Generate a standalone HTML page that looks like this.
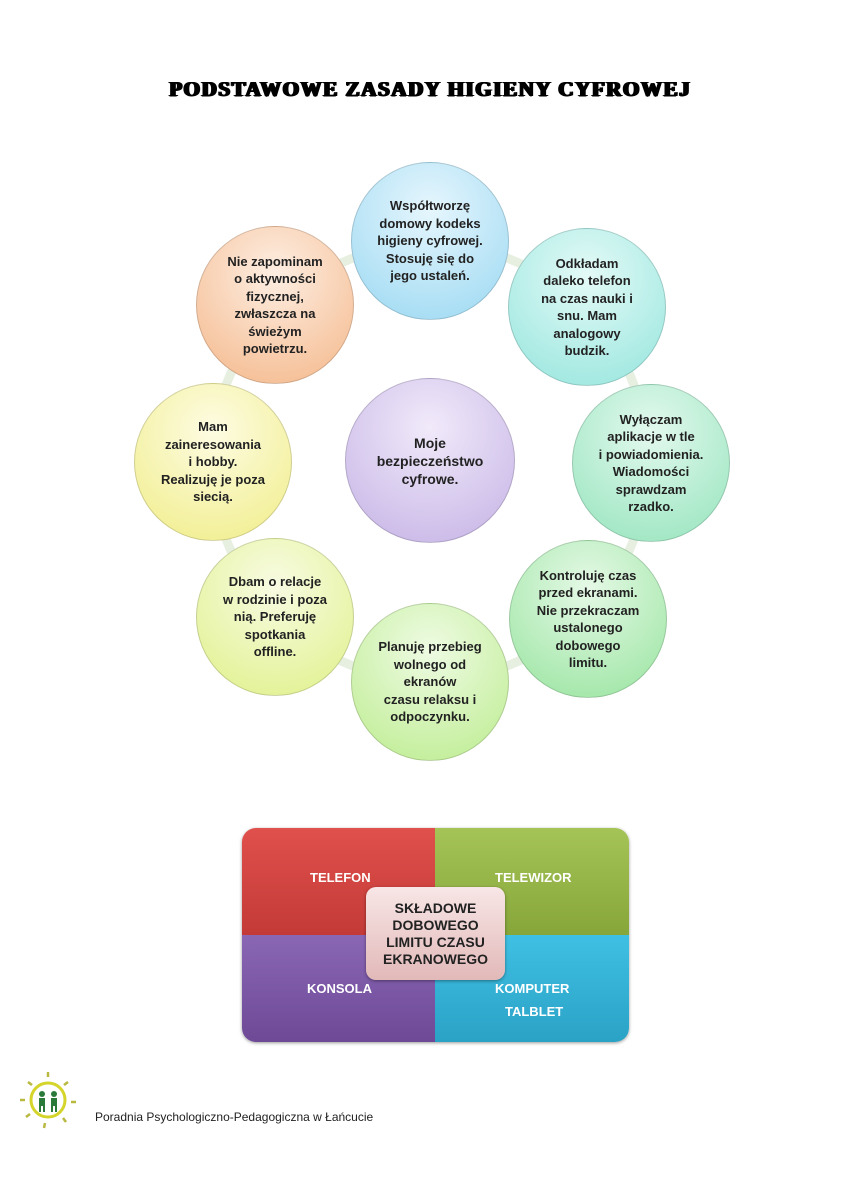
<!DOCTYPE html>
<html><head><meta charset="utf-8"><style>
body{margin:0;width:860px;height:1187px;background:#fff;position:relative;overflow:hidden;font-family:"Liberation Sans",sans-serif}
.t{position:absolute;left:0;width:860px;top:77px;text-align:center;font-family:"Liberation Serif",serif;font-weight:bold;font-size:21px;letter-spacing:1.6px;color:#000;text-shadow:1px 0 #000,-1px 0 #000,0 0.6px #000,1.5px 0 #000;}
.c{position:absolute;width:158px;height:158px;border-radius:50%;display:flex;align-items:center;justify-content:center;text-align:center;font-weight:bold;font-size:13px;line-height:17.5px;color:#222;box-sizing:border-box;border:1px solid rgba(0,0,0,0.15)}
.q{position:absolute;color:#fff;font-weight:bold;font-size:13px}
</style></head><body>
<div class="t">PODSTAWOWE ZASADY HIGIENY CYFROWEJ</div>
<svg style="position:absolute;left:0;top:0" width="860" height="1187">
<circle cx="430" cy="462" r="218" fill="none" stroke="#e6efe0" stroke-width="9"/>
</svg>
<div class="c" style="left:351px;top:162px;background:radial-gradient(circle at 50% 30%,#e6f6fd,#a9def4 80%)">Współtworzę<br>domowy kodeks<br>higieny cyfrowej.<br>Stosuję się do<br>jego ustaleń.</div>
<div class="c" style="left:508px;top:228px;background:radial-gradient(circle at 50% 30%,#e4faf7,#a4e9e2 80%)">Odkładam<br>daleko telefon<br>na czas nauki i<br>snu. Mam<br>analogowy<br>budzik.</div>
<div class="c" style="left:572px;top:384px;background:radial-gradient(circle at 50% 30%,#e3f9ee,#a4e8c6 80%)">Wyłączam<br>aplikacje w tle<br>i powiadomienia.<br>Wiadomości<br>sprawdzam<br>rzadko.</div>
<div class="c" style="left:509px;top:540px;background:radial-gradient(circle at 50% 30%,#e5f9e6,#a7e8ad 80%)">Kontroluję czas<br>przed ekranami.<br>Nie przekraczam<br>ustalonego<br>dobowego<br>limitu.</div>
<div class="c" style="left:351px;top:603px;background:radial-gradient(circle at 50% 30%,#eefbe3,#c6ef9f 80%)">Planuję przebieg<br>wolnego od<br>ekranów<br>czasu relaksu i<br>odpoczynku.</div>
<div class="c" style="left:196px;top:538px;background:radial-gradient(circle at 50% 30%,#f8fbe2,#e4f39b 80%)">Dbam o relacje<br>w rodzinie i poza<br>nią. Preferuję<br>spotkania<br>offline.</div>
<div class="c" style="left:134px;top:383px;background:radial-gradient(circle at 50% 30%,#fdfce2,#f3f09a 80%)">Mam<br>zaineresowania<br>i hobby.<br>Realizuję je poza<br>siecią.</div>
<div class="c" style="left:196px;top:226px;background:radial-gradient(circle at 50% 30%,#fdeee2,#f6c29b 80%)">Nie zapominam<br>o aktywności<br>fizycznej,<br>zwłaszcza na<br>świeżym<br>powietrzu.</div>
<div class="c" style="left:345px;top:378px;width:170px;height:165px;font-size:14px;line-height:18px;background:radial-gradient(circle at 50% 30%,#f1eafa,#cdbde9 80%)">Moje<br>bezpieczeństwo<br>cyfrowe.</div>

<div style="position:absolute;left:242px;top:828px;width:387px;height:214px;border-radius:14px;overflow:hidden;box-shadow:0 1px 3px rgba(0,0,0,.4)">
<div style="position:absolute;left:0;top:0;width:193px;height:107px;background:linear-gradient(#e0504c,#c33a37)"></div>
<div style="position:absolute;left:193px;top:0;width:194px;height:107px;background:linear-gradient(#a5c457,#87a63a)"></div>
<div style="position:absolute;left:0;top:107px;width:193px;height:107px;background:linear-gradient(#8a67b5,#6d4996)"></div>
<div style="position:absolute;left:193px;top:107px;width:194px;height:107px;background:linear-gradient(#3fc0e3,#2aa2c6)"></div>
</div>
<div class="q" style="left:310px;top:870px">TELEFON</div>
<div class="q" style="left:495px;top:870px">TELEWIZOR</div>
<div class="q" style="left:307px;top:981px">KONSOLA</div>
<div class="q" style="left:495px;top:981px">KOMPUTER</div>
<div class="q" style="left:505px;top:1004px">TALBLET</div>
<div style="position:absolute;left:366px;top:887px;width:139px;height:93px;border-radius:10px;background:linear-gradient(#f8e6e6,#e2b9b9);box-shadow:0 1px 3px rgba(0,0,0,.4);display:flex;align-items:center;justify-content:center;text-align:center;font-weight:bold;font-size:14px;line-height:17px;color:#222">SKŁADOWE<br>DOBOWEGO<br>LIMITU CZASU<br>EKRANOWEGO</div>

<svg style="position:absolute;left:18px;top:1070px" width="60" height="60">
<circle cx="30" cy="30" r="17" fill="none" stroke="#d4d42a" stroke-width="3"/>
<g stroke="#b9b840" stroke-width="2.5"><line x1="30" y1="2" x2="30" y2="7"/><line x1="50" y1="12" x2="46" y2="15"/><line x1="58" y1="32" x2="53" y2="32"/><line x1="48" y1="52" x2="45" y2="48"/><line x1="26" y1="58" x2="27" y2="53"/><line x1="8" y1="47" x2="12" y2="44"/><line x1="2" y1="30" x2="7" y2="30"/><line x1="10" y1="12" x2="14" y2="15"/></g>
<g fill="#2a7a3a"><circle cx="24" cy="24" r="3"/><circle cx="36" cy="24" r="3"/><rect x="21" y="28" width="6" height="8"/><rect x="33" y="28" width="6" height="8"/><rect x="21" y="36" width="2" height="6"/><rect x="25" y="36" width="2" height="6"/><rect x="33" y="36" width="2" height="6"/><rect x="37" y="36" width="2" height="6"/></g>
</svg>
<div style="position:absolute;left:95px;top:1110px;font-size:12px;color:#222">Poradnia Psychologiczno-Pedagogiczna w Łańcucie</div>
</body></html>
